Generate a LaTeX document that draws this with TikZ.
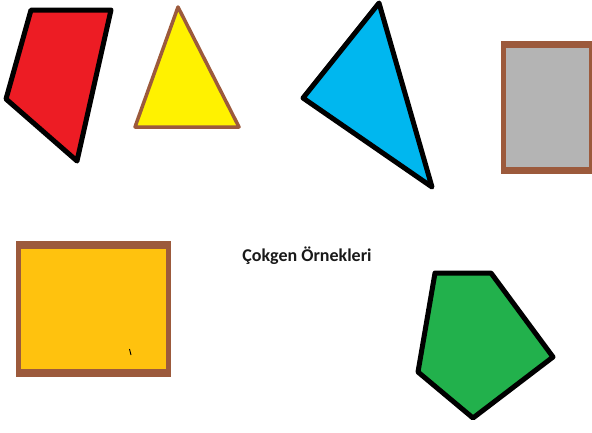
\documentclass[tikz,border=0pt]{standalone}
\usepackage{fontspec}
\setmainfont{Carlito}
\definecolor{brn}{HTML}{9C5A3C}
\definecolor{redf}{HTML}{ED1C24}
\definecolor{yelf}{HTML}{FFF200}
\definecolor{bluf}{HTML}{00B7EF}
\definecolor{grayf}{HTML}{B4B4B4}
\definecolor{orgf}{HTML}{FFC20E}
\definecolor{grnf}{HTML}{22B14C}
\begin{document}
\begin{tikzpicture}[x=1pt,y=-1pt,
  blackpoly/.style={draw=black,line width=5pt,line join=round},
  brownpoly/.style={draw=brn,line width=3.5pt,line join=round}]
\useasboundingbox (0,0) rectangle (592,432);
% red quadrilateral
\filldraw[blackpoly,fill=redf] (31,10) -- (111,10) -- (77,161) -- (6,99) -- cycle;
% yellow triangle
\filldraw[brownpoly,fill=yelf] (178,7) -- (239,127) -- (135,127) -- cycle;
% blue triangle
\filldraw[blackpoly,fill=bluf] (379,3) -- (432,187) -- (303,98) -- cycle;
% gray rectangle
\fill[brn] (501,41) rectangle (593,174);
\fill[grayf] (506,48) rectangle (589,167);
% orange rectangle
\fill[brn] (16,241) rectangle (171,377);
\fill[orgf] (21,249) rectangle (166,369);
\draw[black,line width=0.9pt] (129.5,349) -- (131,355);
% green pentagon
\filldraw[blackpoly,fill=grnf] (435,273) -- (491,273) -- (553,357) -- (473,418) -- (418,372) -- cycle;
% title
\node[text=black!90,font=\bfseries\fontsize{18}{20}\selectfont] (title) at (307,256) {Çokgen Örnekleri};
\end{tikzpicture}
\end{document}
